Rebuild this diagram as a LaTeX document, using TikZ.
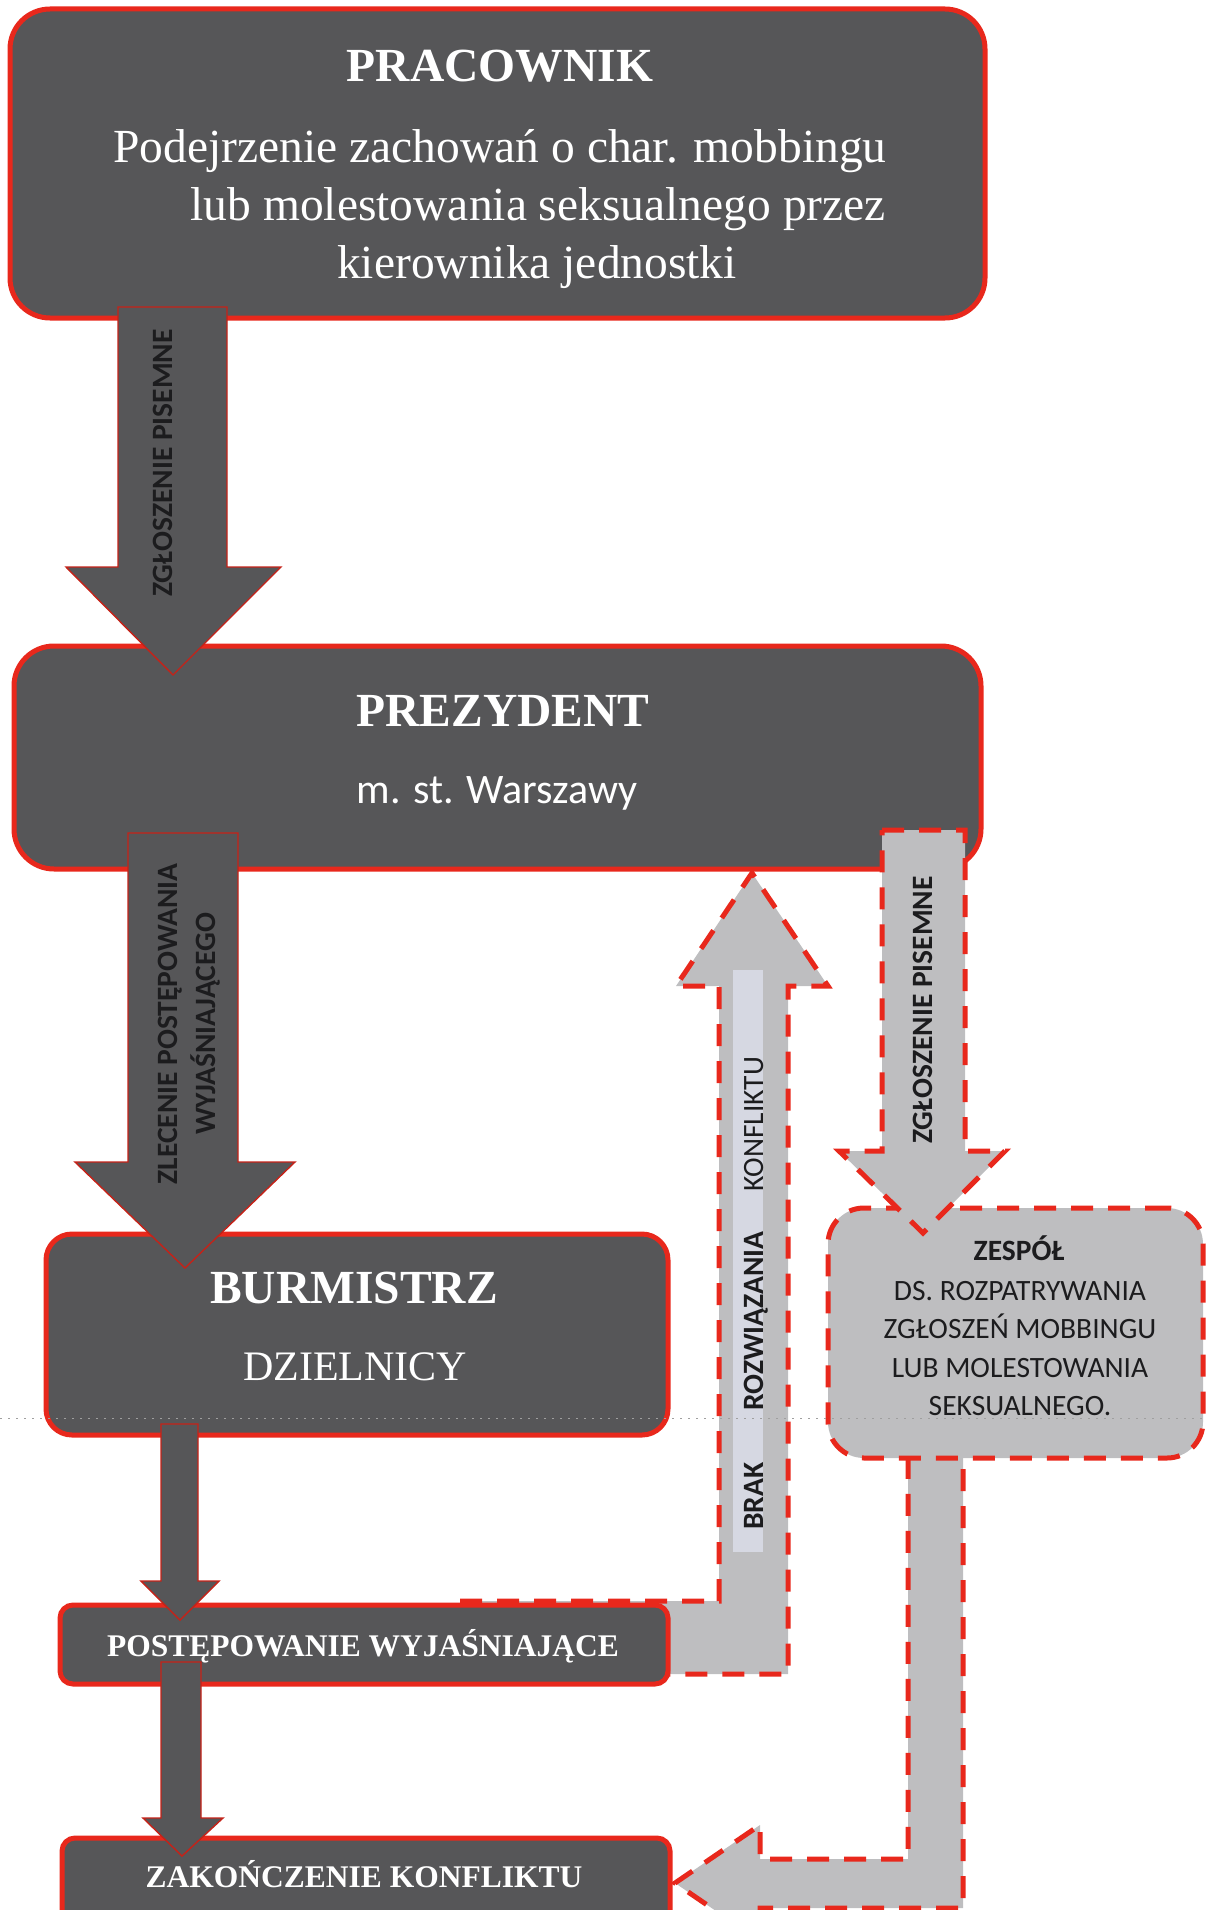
\documentclass[tikz,border=0pt]{standalone}
\usepackage{fontspec}
\setmainfont{Liberation Serif}
\newfontfamily\sansf{Carlito}
\definecolor{boxdark}{RGB}{86,86,88}
\definecolor{boxred}{RGB}{232,40,28}
\definecolor{lightg}{RGB}{190,190,192}
\definecolor{stripc}{RGB}{214,216,226}
\definecolor{txtdark}{RGB}{28,28,30}
\pgfdeclarelayer{bg}
\pgfdeclarelayer{fg}
\pgfsetlayers{bg,main,fg}
\tikzset{
  darkbox/.style={rectangle, fill=boxdark, draw=boxred, line width=5pt, inner sep=0pt},
  lightbox/.style={rectangle, fill=lightg, draw=boxred, line width=5pt, dash pattern=on 22pt off 15pt, inner sep=0pt},
  darkarrow/.style={fill=boxdark, draw=boxred!85!black, line width=1.4pt, line join=miter},
  lightarrow/.style={fill=lightg, draw=boxred, line width=5pt, dash pattern=on 22pt off 15pt, line join=miter},
  serifw/.style={text=white, inner sep=0pt},
  sansd/.style={text=txtdark, inner sep=0pt},
  big/.style={font=\fontsize{47.5}{57}\selectfont},
  bigb/.style={font=\fontsize{47.5}{57}\selectfont\bfseries},
  midr/.style={font=\fontsize{42}{50}\selectfont},
  smb/.style={font=\fontsize{31.5}{38}\selectfont\bfseries},
  lab/.style={font=\sansf\fontsize{29.5}{38}\selectfont\bfseries},
  labr/.style={font=\sansf\fontsize{29.5}{38}\selectfont},
}
\begin{document}
\begin{tikzpicture}[x=1pt,y=-1pt]
\useasboundingbox (0,0) rectangle (1206,1910);
\clip (0,0) rectangle (1206,1910);

% ---------- boxes ----------
\node[darkbox, rounded corners=40pt, minimum width=975pt, minimum height=309pt] (pracownik) at (497.5,163.5) {};
\node[darkbox, rounded corners=40pt, minimum width=967pt, minimum height=223pt] (prezydent) at (497.5,757.5) {};
\node[darkbox, rounded corners=26pt, minimum width=622pt, minimum height=201pt] (burmistrz) at (357,1334.5) {};
\node[darkbox, rounded corners=13pt, minimum width=608pt, minimum height=79pt] (postep) at (364,1644.5) {};
\node[darkbox, rounded corners=13pt, minimum width=608pt, minimum height=90pt] (zakon) at (366,1883) {};
\node[lightbox, rounded corners=36pt, minimum width=375pt, minimum height=250pt] (zespol) at (1015.5,1333) {};

% ---------- arrows behind the boxes ----------
\begin{pgfonlayer}{bg}
\draw[lightarrow] (460,1601) -- (719,1601) -- (719,986) -- (676,986) -- (752,873)
  -- (828,986) -- (788,986) -- (788,1674) -- (460,1674) -- cycle;
\fill[stripc] (733,970) rectangle (763,1552);
\draw[lightarrow] (908,1450) -- (963,1450) -- (963,1908) -- (760,1908) -- (760,1941)
  -- (675,1883) -- (760,1825) -- (760,1859) -- (908,1859) -- cycle;
\end{pgfonlayer}

% ---------- arrows in front of the boxes ----------
\begin{pgfonlayer}{fg}
\draw[darkarrow] (118,307) -- (227,307) -- (227,567) -- (281,567) -- (173,675) -- (66,567) -- (118,567) -- cycle;
\draw[darkarrow] (128,833) -- (238,833) -- (238,1162) -- (295,1162) -- (185,1268) -- (75,1162) -- (128,1162) -- cycle;
\draw[darkarrow] (161,1424) -- (198,1424) -- (198,1581) -- (219,1581) -- (180,1620) -- (141,1581) -- (161,1581) -- cycle;
\draw[darkarrow] (161,1662) -- (201,1662) -- (201,1818) -- (223,1818) -- (182,1856) -- (143,1818) -- (161,1818) -- cycle;
\draw[lightarrow] (882,830) -- (965,830) -- (965,1151) -- (1005,1151) -- (923,1233) -- (839,1151) -- (882,1151) -- cycle;

% ---------- box texts ----------
\node[serifw, bigb, anchor=base] (t-prac) at (500,82) {PRACOWNIK};
\node[serifw, big, anchor=base] (t-prac1) at (500,163) {Podejrzenie zachowań o char. mobbingu};
\node[serifw, big, anchor=base east] (t-prac2) at (886,221) {lub molestowania seksualnego przez};
\node[serifw, big, anchor=base] (t-prac3) at (537,278) {kierownika jednostki};

\node[serifw, bigb, anchor=base] (t-prez) at (503,726) {PREZYDENT};
\node[serifw, font=\sansf\fontsize{42}{50}\selectfont, anchor=base] (t-prez1) at (497,803) {m. st. Warszawy};

\node[serifw, bigb, anchor=base] (t-burm) at (354,1303) {BURMISTRZ};
\node[serifw, midr, anchor=base] (t-burm1) at (355,1380) {DZIELNICY};

\node[serifw, smb, anchor=base] (t-post) at (363,1656) {POSTĘPOWANIE WYJAŚNIAJĄCE};
\node[serifw, smb, anchor=base] (t-zak) at (364,1887) {ZAKOŃCZENIE KONFLIKTU};

\node[sansd, lab, anchor=base] (t-zesp) at (1019,1260) {ZESPÓŁ};
\node[sansd, labr, anchor=base] (t-zesp1) at (1020,1300) {DS. ROZPATRYWANIA};
\node[sansd, labr, anchor=base] (t-zesp2) at (1020,1338) {ZGŁOSZEŃ MOBBINGU};
\node[sansd, labr, anchor=base] (t-zesp3) at (1020,1377) {LUB MOLESTOWANIA};
\node[sansd, labr, anchor=base] (t-zesp4) at (1020,1415) {SEKSUALNEGO.};

% ---------- arrow labels ----------
\node[sansd, lab, anchor=base, rotate=90] (l-zgl1) at (172,463) {ZGŁOSZENIE PISEMNE};
\node[sansd, lab, anchor=base, rotate=90] (l-zlec1) at (177,1024) {ZLECENIE POSTĘPOWANIA};
\node[sansd, lab, anchor=base, rotate=90] (l-zlec2) at (215,1024) {WYJAŚNIAJĄCEGO};
\node[sansd, lab, anchor=base, rotate=90] (l-zgl2) at (932,1010) {ZGŁOSZENIE PISEMNE};
\node[sansd, lab, anchor=base, rotate=90] (l-brak) at (763,1496) {BRAK};
\node[sansd, lab, anchor=base, rotate=90] (l-rozw) at (763,1321) {ROZWIĄZANIA};
\node[sansd, labr, anchor=base, rotate=90] (l-konf) at (763,1124) {KONFLIKTU};

% ---------- faint scan fold line ----------
\coordinate (fold-l) at (0,1418);
\coordinate (fold-r) at (1206,1418);
\draw[gray!75, line width=0.9pt, dash pattern=on 2pt off 6pt] (fold-l) -- (fold-r);
\end{pgfonlayer}
\end{tikzpicture}
\end{document}
